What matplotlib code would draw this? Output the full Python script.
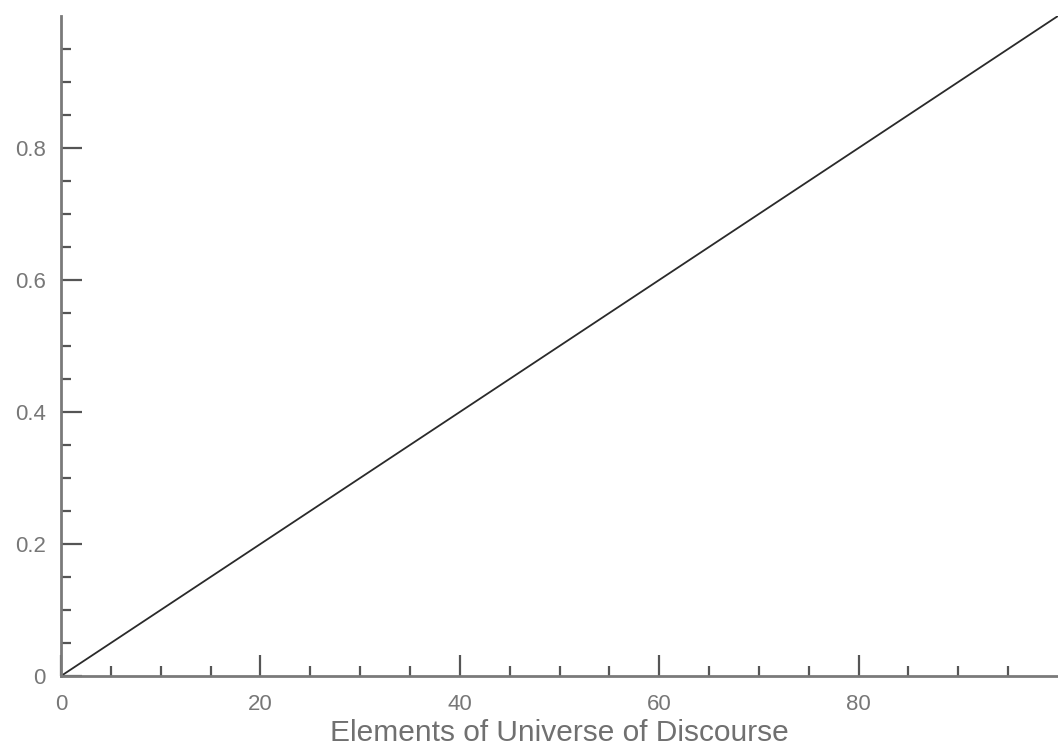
import matplotlib
matplotlib.use("Agg")
import matplotlib.pyplot as plt
from matplotlib.ticker import FixedLocator

# Linear membership function over the universe of discourse
x_vals = [0, 100]
mu_vals = [0.0, 1.0]

x_major = [0, 20, 40, 60, 80]
x_labels = ['0', '20', '40', '60', '80']
x_minor = [5, 10, 15, 25, 30, 35, 45, 50, 55, 65, 70, 75, 85, 90, 95]
y_major = [0, 0.2, 0.4, 0.6, 0.8]
y_labels = ['0', '0.2', '0.4', '0.6', '0.8']
y_minor = [0.05, 0.1, 0.15, 0.25, 0.3, 0.35, 0.45, 0.5, 0.55,
           0.65, 0.7, 0.75, 0.85, 0.9, 0.95]

plt.rcParams['font.family'] = ['Liberation Sans', 'DejaVu Sans']

fig = plt.figure(figsize=(10.58, 7.53), dpi=100)
ax = fig.add_axes([0.0577, 0.1023, 0.9423, 0.8765])

ax.plot(x_vals, mu_vals, color='#2a2a2a', linewidth=1.3, solid_capstyle='butt')

ax.set_xlim(0, 100)
ax.set_ylim(0, 1.0)

for s in ['top', 'right']:
    ax.spines[s].set_visible(False)
for s in ['left', 'bottom']:
    ax.spines[s].set_color('#7a7a7a')
    ax.spines[s].set_linewidth(2)

ax.set_xticks(x_major)
ax.set_xticklabels(x_labels)
ax.set_yticks(y_major)
ax.set_yticklabels(y_labels)
ax.xaxis.set_minor_locator(FixedLocator(x_minor))
ax.yaxis.set_minor_locator(FixedLocator(y_minor))

ax.tick_params(which='major', direction='in', length=15, width=1.6,
               color='#555555', labelcolor='#777777', labelsize=16)
ax.tick_params(which='minor', direction='in', length=7, width=1.6,
               color='#555555')
ax.tick_params(axis='x', which='major', pad=13)
ax.tick_params(axis='y', which='major', pad=11)

ax.set_xlabel('Elements of Universe of Discourse', fontsize=21.5,
              color='#707070', labelpad=3)

fig.savefig('out.png', dpi=100)
